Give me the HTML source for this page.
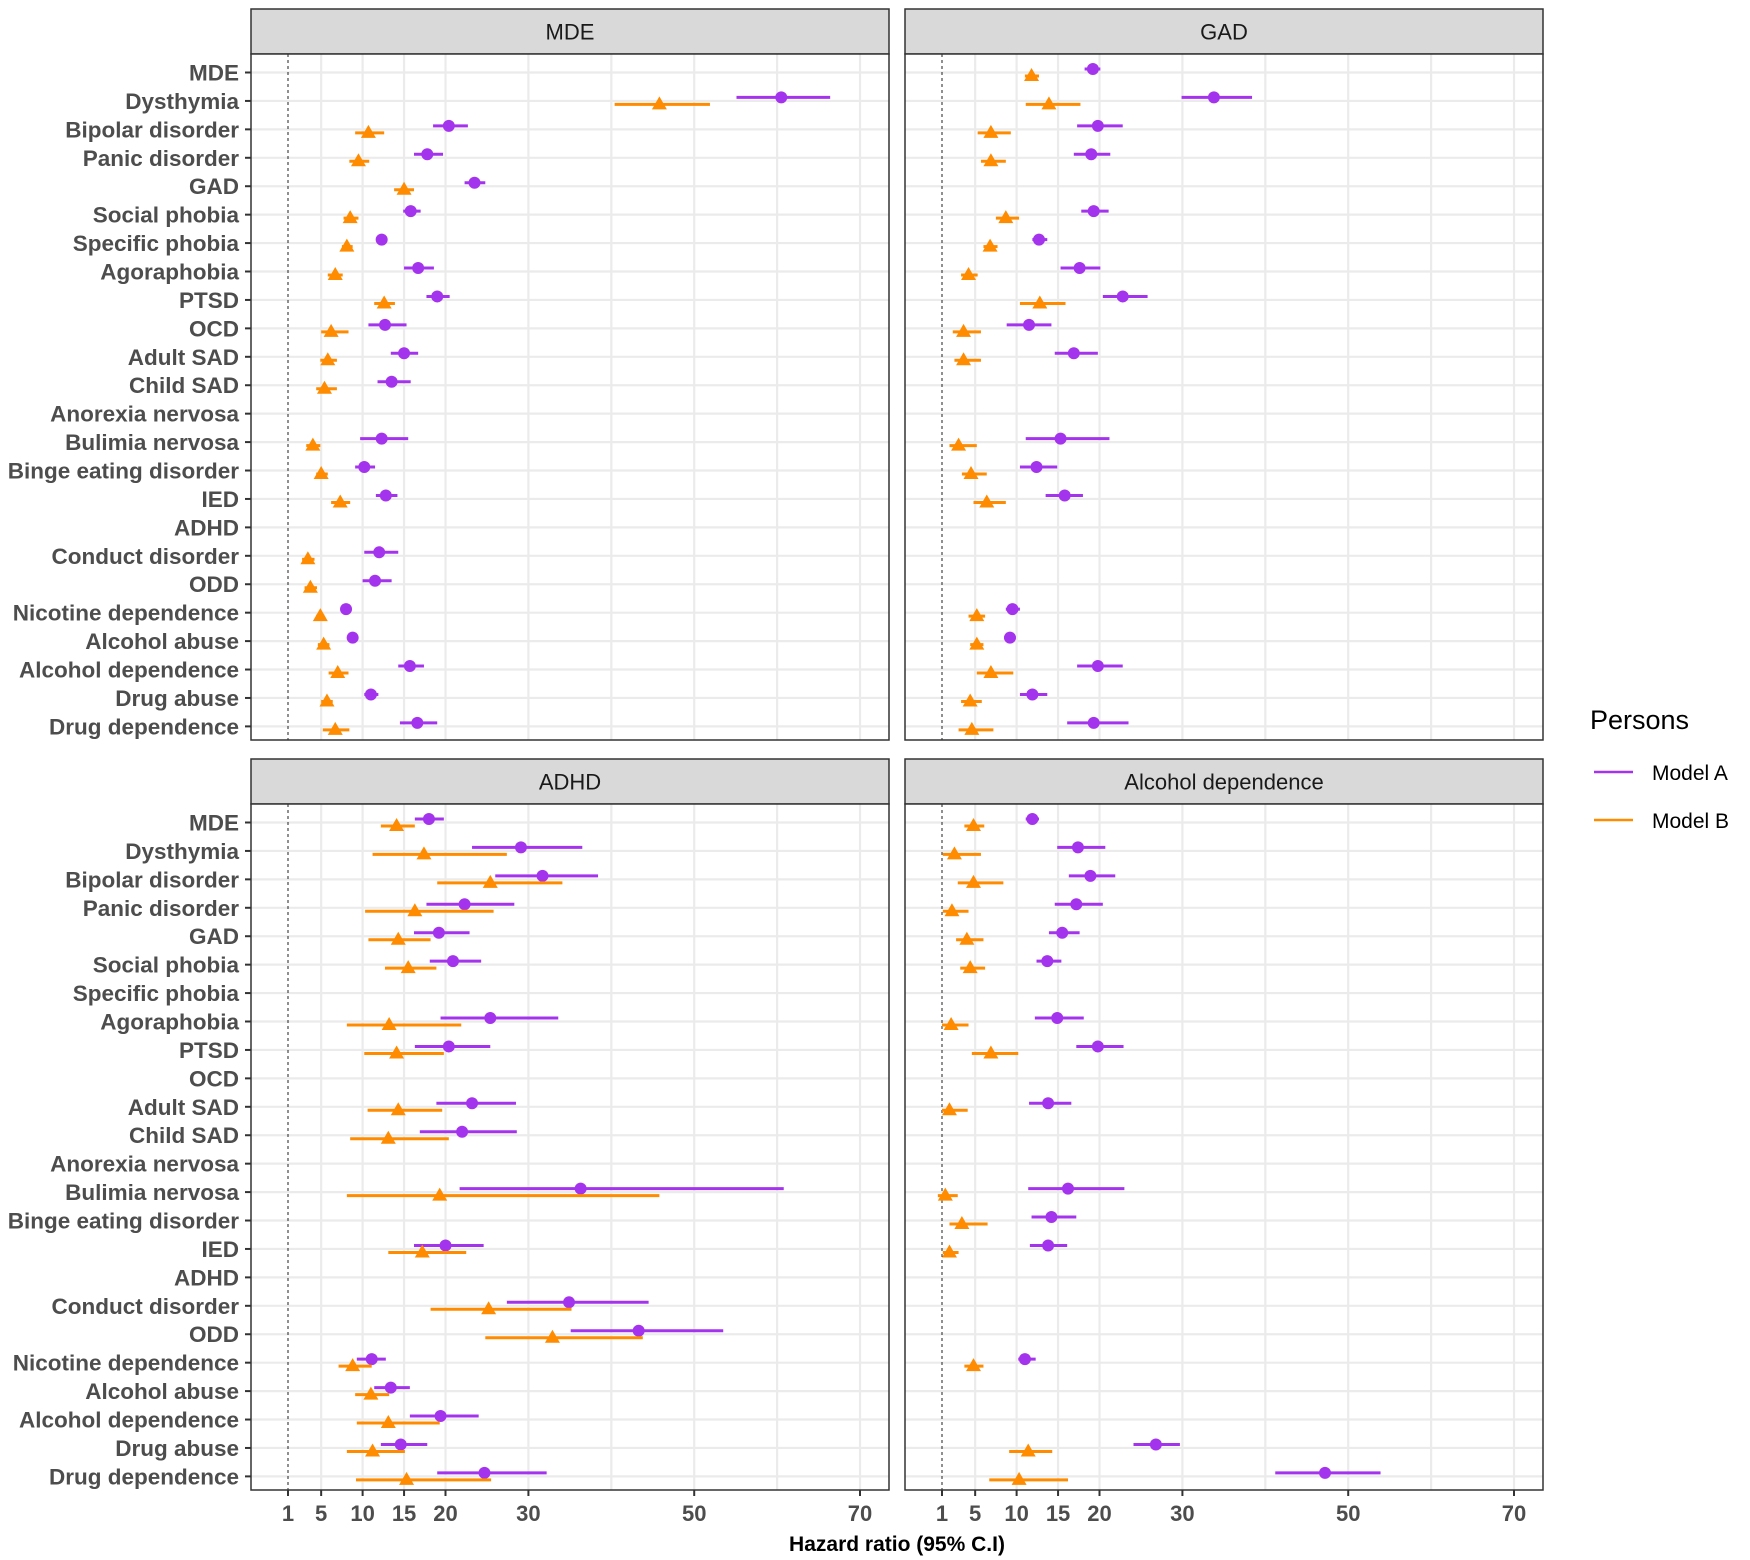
<!DOCTYPE html>
<html><head><meta charset="utf-8"><style>
html,body{margin:0;padding:0;background:#fff;}
svg{display:block;font-family:"Liberation Sans",Arial,sans-serif;}
</style></head><body>
<svg id="chart" width="1750" height="1560" viewBox="0 0 1750 1560" xmlns="http://www.w3.org/2000/svg"></svg>
<script>
const rows = ["MDE","Dysthymia","Bipolar disorder","Panic disorder","GAD","Social phobia","Specific phobia","Agoraphobia","PTSD","OCD","Adult SAD","Child SAD","Anorexia nervosa","Bulimia nervosa","Binge eating disorder","IED","ADHD","Conduct disorder","ODD","Nicotine dependence","Alcohol abuse","Alcohol dependence","Drug abuse","Drug dependence"];
const xTicks = [1,5,10,15,20,30,50,70];
const gridVals = [5,10,15,20,30,40,50,60,70];
const panelTitles = ["MDE","GAD","ADHD","Alcohol dependence"];
const N = null;
// MDE panel
const mdeA = [N,60.5,20.4,17.8,23.5,15.8,12.3,16.7,19,12.7,15,13.5,N,12.3,10.2,12.8,N,12,11.5,8,8.8,15.7,11,16.6];
const mdeALo = [N,55.1,18.5,16.2,22.3,14.9,11.9,15,17.7,10.7,13.4,11.8,N,9.7,9.1,11.6,N,10.2,10,7.6,8.3,14.3,10.2,14.5];
const mdeAHi = [N,66.4,22.7,19.7,24.8,17,12.8,18.6,20.5,15.3,16.7,15.8,N,15.5,11.5,14.2,N,14.3,13.5,8.5,9.3,17.4,11.9,19];
const mdeB = [N,45.8,10.7,9.5,15,8.5,8.1,6.7,12.6,6.2,5.8,5.4,N,4,5,7.3,N,3.4,3.7,4.9,5.3,7,5.7,6.7];
const mdeBLo = [N,40.4,9.1,8.4,13.8,7.7,7.5,5.8,11.4,5,4.9,4.4,N,3.2,4.4,6.2,N,2.7,3,4.4,4.6,5.9,5,5.2];
const mdeBHi = [N,51.9,12.6,10.8,16.2,9.5,8.8,7.6,13.9,8.3,6.9,6.9,N,4.9,5.8,8.5,N,4.2,4.5,5.4,6,8.3,6.4,8.4];
// GAD panel
const gadA = [19.2,33.8,19.8,19,N,19.3,12.7,17.6,22.8,11.5,16.9,N,N,15.3,12.4,15.8,N,N,N,9.5,9.2,19.8,11.9,19.3];
const gadALo = [18.2,29.9,17.3,16.9,N,17.8,11.9,15.3,20.4,8.8,14.6,N,N,11.1,10.4,13.5,N,N,N,8.7,8.5,17.3,10.4,16.1];
const gadAHi = [20.1,38.4,22.8,21.3,N,21.1,13.7,20.1,25.8,14.2,19.8,N,N,21.2,14.9,18,N,N,N,10.4,9.9,22.8,13.7,23.5];
const gadB = [11.8,13.9,6.9,6.9,N,8.7,6.8,4.2,12.8,3.6,3.6,N,N,3,4.5,6.4,N,N,N,5.2,5.2,6.9,4.4,4.6];
const gadBLo = [11,11.1,5.3,5.7,N,7.5,6,3.3,10.4,2.3,2.5,N,N,1.9,3.4,4.8,N,N,N,4.2,4.4,5.2,3.3,3];
const gadBHi = [12.7,17.7,9.3,8.7,N,10.3,7.7,5.3,15.9,5.7,5.7,N,N,5.2,6.4,8.7,N,N,N,6.2,6,9.6,5.8,7.2];
// ADHD panel
const adhdA = [18,29.1,31.7,22.3,19.2,20.9,N,25.4,20.4,N,23.2,22,N,36.3,N,20,N,34.9,43.3,11.1,13.4,19.4,14.6,24.7];
const adhdALo = [16.3,23.2,26,17.7,16.2,18.1,N,19.4,16.3,N,18.9,16.9,N,21.7,N,16.2,N,27.4,35.1,9.3,11.4,15.7,12.2,19];
const adhdAHi = [19.8,36.5,38.4,28.3,22.9,24.3,N,33.6,25.4,N,28.5,28.6,N,60.8,N,24.6,N,44.5,53.5,12.8,15.7,24,17.8,32.2];
const adhdB = [14.1,17.4,25.4,16.3,14.3,15.5,N,13.2,14.1,N,14.3,13.1,N,19.3,N,17.2,N,25.2,32.9,8.8,11,13.1,11.2,15.3];
const adhdBLo = [12.2,11.2,19,10.3,10.7,12.7,N,8.1,10.2,N,10.6,8.5,N,8.1,N,13.1,N,18.2,24.8,7.1,9.1,9.3,8.1,9.2];
const adhdBHi = [16.3,27.4,34.1,25.8,18.2,18.9,N,21.9,19.8,N,19.6,20.4,N,45.8,N,22.5,N,35.2,43.8,11.1,13.2,19.3,15.1,25.5];
// Alcohol dependence panel
const alcA = [11.9,17.4,18.9,17.2,15.5,13.7,N,14.9,19.8,N,13.8,N,N,16.2,14.2,13.8,N,N,N,11,N,N,26.8,47.2];
const alcALo = [11.1,14.9,16.3,14.6,13.9,12.4,N,12.2,17.2,N,11.5,N,N,11.4,11.8,11.6,N,N,N,10.2,N,N,24.1,41.2];
const alcAHi = [12.7,20.7,21.9,20.4,17.6,15.4,N,18.1,22.9,N,16.6,N,N,23,17.2,16.1,N,N,N,12.3,N,N,29.7,53.9];
const alcB = [4.8,2.5,4.8,2.2,4,4.4,N,2.1,6.9,N,1.9,N,N,1.4,3.4,1.9,N,N,N,4.8,N,N,11.4,10.3];
const alcBLo = [3.7,1.1,2.9,1.1,2.7,3.2,N,1,4.6,N,1,N,N,0.5,1.9,1.1,N,N,N,3.7,N,N,9.1,6.7];
const alcBHi = [6.1,5.7,8.4,4.2,6,6.2,N,4.2,10.2,N,4.1,N,N,2.9,6.5,3,N,N,N,6,N,N,14.3,16.2];

const panelData = [
  [mdeA,mdeALo,mdeAHi,mdeB,mdeBLo,mdeBHi],
  [gadA,gadALo,gadAHi,gadB,gadBLo,gadBHi],
  [adhdA,adhdALo,adhdAHi,adhdB,adhdBLo,adhdBHi],
  [alcA,alcALo,alcAHi,alcB,alcBLo,alcBHi]
];

const NS="http://www.w3.org/2000/svg";
const svg=document.getElementById('chart');
function mk(tag,attrs,parent){const e=document.createElementNS(NS,tag);for(const k in attrs)e.setAttribute(k,attrs[k]);(parent||svg).appendChild(e);return e;}
const PW=638, PH=686;
const panelX=[251,905,251,905];
const panelY=[54,54,804,804];
const stripH=45;
const PURPLE="#A433EE", ORANGE="#FF8C00";
function xs(p,v){return panelX[p]+37+(v-1)*8.29;}
function ys(p,i){return panelY[p]+18.5+i*28.43;}

for(let p=0;p<4;p++){
  const g=mk('g',{});
  
  
  const px=panelX[p], py=panelY[p];
  const st=mk('rect',{x:px,y:py-stripH,width:PW,height:stripH,fill:'#D9D9D9',stroke:'#333',"stroke-width":1.5},g);
  
  
  const stt=mk('text',{x:px+PW/2,y:py-stripH/2+8,"text-anchor":"middle","font-size":22,fill:'#1a1a1a'},g);
  stt.textContent=panelTitles[p];
  
  
  mk('rect',{x:px,y:py,width:PW,height:PH,fill:'#fff'},g);
  gridVals.forEach(v=>{mk('line',{x1:xs(p,v),x2:xs(p,v),y1:py,y2:py+PH,stroke:'#EBEBEB',"stroke-width":2.2},g);});
  rows.forEach((r,i)=>{mk('line',{x1:px,x2:px+PW,y1:ys(p,i),y2:ys(p,i),stroke:'#EBEBEB',"stroke-width":2.2},g);});
  const ref=mk('line',{x1:xs(p,1),x2:xs(p,1),y1:py,y2:py+PH,stroke:'#222',"stroke-width":1,"stroke-dasharray":"3,3"},g);
  
  
  if(p%2===0){
    rows.forEach((r,i)=>{
      mk('line',{x1:px-6,x2:px,y1:ys(p,i),y2:ys(p,i),stroke:'#333',"stroke-width":2},g);
      const t=mk('text',{x:px-12,y:ys(p,i)+8,"text-anchor":"end","font-size":22.5,"font-weight":"bold",fill:'#4D4D4D'},g);
      t.textContent=r;
      
      
    });
  }
  if(p>=2){
    xTicks.forEach(v=>{
      mk('line',{x1:xs(p,v),x2:xs(p,v),y1:py+PH,y2:py+PH+6,stroke:'#333',"stroke-width":2},g);
      const t=mk('text',{x:xs(p,v),y:py+PH+31,"text-anchor":"middle","font-size":22,"font-weight":"bold",fill:'#4D4D4D'},g);
      t.textContent=v;
      
      
    });
  }
  const d=panelData[p];
  rows.forEach((r,i)=>{
    if(d[0][i]!==null){
      const y=ys(p,i)-3.5;
      const l=mk('line',{x1:xs(p,d[1][i]),x2:xs(p,d[2][i]),y1:y,y2:y,stroke:PURPLE,"stroke-width":3},g);
      
      
      const c=mk('circle',{cx:xs(p,d[0][i]),cy:y,r:6,fill:PURPLE},g);
      
      
    }
    if(d[3][i]!==null){
      const y=ys(p,i)+3.5;
      const l=mk('line',{x1:xs(p,d[4][i]),x2:xs(p,d[5][i]),y1:y,y2:y,stroke:ORANGE,"stroke-width":3},g);
      
      
      const cx=xs(p,d[3][i]);
      const tr=mk('polygon',{points:`${cx},${y-8} ${cx-7.5},${y+5} ${cx+7.5},${y+5}`,fill:ORANGE},g);
      
      
    }
  });
  mk('rect',{x:px,y:py,width:PW,height:PH,fill:'none',stroke:'#333',"stroke-width":1.5},g);
}
const xt=mk('text',{x:897,y:1551,"text-anchor":"middle","font-size":21,"font-weight":"bold",fill:'#000'});
xt.textContent="Hazard ratio (95% C.I)";


const lg=mk('g',{});


const lt=mk('text',{x:1590,y:729,"font-size":27,fill:'#000'},lg);
lt.textContent="Persons";


[["Model A",PURPLE,772],["Model B",ORANGE,820]].forEach(([n,c,y])=>{
  const e=mk('g',{},lg);
  
  
  mk('line',{x1:1594,x2:1633,y1:y,y2:y,stroke:c,"stroke-width":2.5},e);
  const t=mk('text',{x:1652,y:y+8,"font-size":21,fill:'#000'},e);
  t.textContent=n;
});
</script>
</body></html>
